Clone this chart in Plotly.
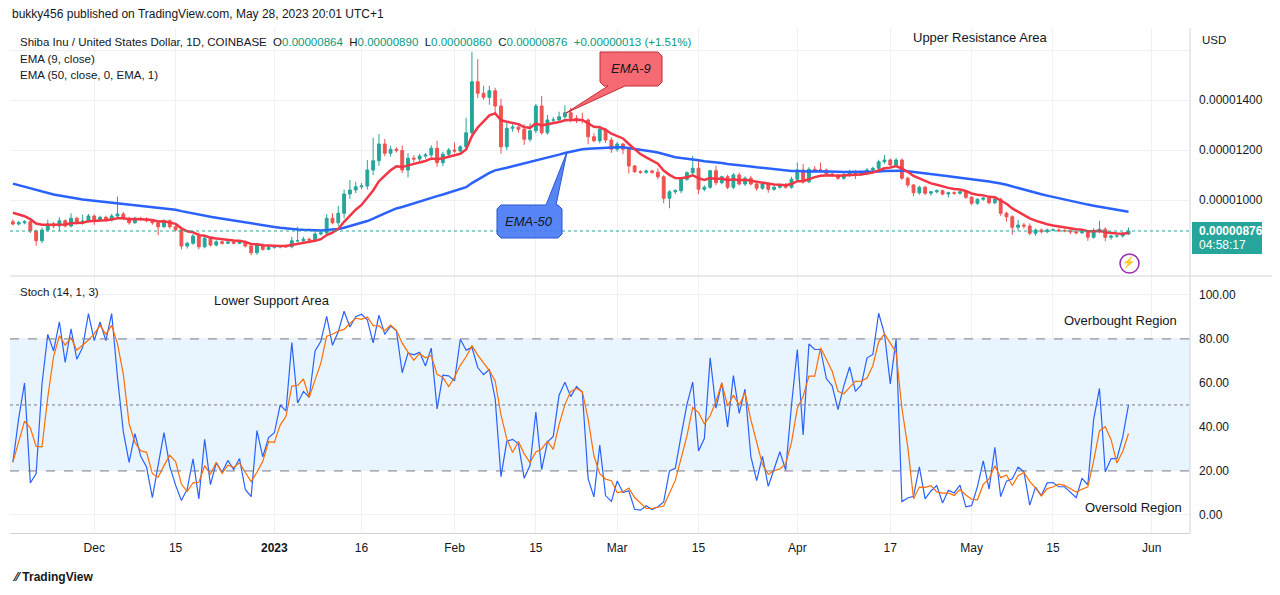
import plotly.graph_objects as go
import pandas as pd

# prices in units of 1e-8 USD
close = [904,909,913,876,837,880,904,896,917,896,927,909,916,936,920,931,920,936,944,927,
         909,927,923,917,909,893,917,893,880,816,827,856,813,847,820,833,827,832,827,833,
         816,789,820,803,811,813,816,813,837,837,843,840,864,869,927,909,947,
         1024,1040,1053,1056,1120,1157,1224,1187,1203,1198,
         1120,1167,1164,1176,1180,1207,1149,1183,1200,1196,
         1213,1269,1473,1427,1411,1437,1376,1213,1287,1291,1283,1243,1277,1376,1269,1320,
         1320,1333,1349,1327,1320,1320,1253,1237,1283,1240,1203,1224,1203,1136,1113,
         1111,1116,1111,1093,1007,1033,1037,1083,1109,1127,1043,1051,1117,1069,1093,1051,
         1100,1064,1087,1064,1047,1064,1043,1051,1060,1051,1083,1120,1073,1123,1120,1120,
         1104,1100,1087,1100,1113,1104,1107,1120,1127,1153,1160,1140,1160,1087,1060,1029,
         1051,1027,1033,1037,
         1024,1029,1027,1033,1011,987,1003,1007,989,1003,947,933,891,900,896,867,880,873,
         880,880,877,877,873,869,873,851,873,883,851,856,856,864,876]
first_open = 913
wick_up = [10,8,6,4,6,10,18,8,14,6,20,6,26,8,6,6,6,8,70,8,
           6,6,6,8,6,6,6,6,6,6,6,8,14,6,4,6,4,4,4,4,
           4,4,4,6,6,6,4,6,16,56,10,6,20,8,16,20,30,
           18,40,20,12,40,92,40,20,14,8,
           20,20,12,8,8,12,30,10,8,30,
           6,60,120,90,30,20,12,30,20,12,12,20,30,8,40,20,
           12,20,30,20,12,30,6,14,14,6,10,8,4,6,4,
           6,6,6,16,6,6,6,4,6,50,30,8,4,20,4,8,
           8,10,8,10,4,6,4,6,6,8,10,30,24,8,12,30,
           6,6,4,8,8,6,4,8,6,8,20,6,8,6,6,4,
           6,6,4,6,
           4,4,6,4,6,4,4,6,6,8,6,6,6,20,8,10,6,6,
           6,6,6,6,6,6,8,4,14,34,8,6,4,8,14]
wick_dn = [6,6,6,8,20,10,6,8,20,6,6,6,8,6,20,6,6,6,8,8,
           8,4,6,6,8,34,6,8,6,14,10,6,10,6,6,6,6,4,4,4,
           6,10,8,6,4,6,6,4,6,6,10,6,6,6,12,6,12,
           20,20,12,10,14,20,20,12,14,8,
           12,30,14,10,10,8,16,14,10,8,
           6,10,20,20,10,30,30,28,14,14,14,22,10,10,8,8,
           10,12,10,16,12,14,30,6,10,12,14,10,20,30,4,
           6,6,6,10,20,40,10,10,6,6,20,8,6,10,6,8,
           8,6,8,6,10,6,14,6,6,6,6,6,8,6,6,8,
           8,8,6,6,8,20,6,8,6,6,8,6,4,6,10,14,
           8,8,10,6,
           6,14,6,6,6,8,6,6,6,6,10,20,30,14,10,8,10,6,
           6,4,6,6,10,6,6,14,6,6,16,10,6,6,4]
ema50_seed = 1072
ema9_seed = 960

dates = pd.date_range("2022-11-17", periods=len(close), freq="D")
opens = [first_open] + close[:-1]
opens[-1] = 864
high = [max(o, c) + u for o, c, u in zip(opens, close, wick_up)]
low = [min(o, c) - d for o, c, d in zip(opens, close, wick_dn)]
high[-1], low[-1] = 890, 860

def ema(vals, n, seed):
    k = 2 / (n + 1); out = []; e = seed
    for v in vals:
        e = v * k + e * (1 - k); out.append(e)
    return out

e9 = ema(close, 9, ema9_seed)
e50 = ema(close, 50, ema50_seed)

K = []
for i in range(len(close)):
    s = max(0, i - 13)
    hh = max(high[s:i + 1]); ll = min(low[s:i + 1])
    K.append(100 * (close[i] - ll) / (hh - ll) if hh > ll else 50)
D = [sum(K[max(0, i - 2):i + 1]) / len(K[max(0, i - 2):i + 1]) for i in range(len(K))]

GREEN, RED = "#26a69a", "#ef5350"
fig = go.Figure()
fig.add_trace(go.Candlestick(x=dates, open=opens, high=high, low=low, close=close,
    increasing=dict(line=dict(color=GREEN, width=1), fillcolor=GREEN),
    decreasing=dict(line=dict(color=RED, width=1), fillcolor=RED),
    whiskerwidth=0, yaxis="y", xaxis="x", showlegend=False))
fig.add_trace(go.Scatter(x=dates, y=e50, mode="lines", line=dict(color="#2962ff", width=2.5), yaxis="y", showlegend=False))
fig.add_trace(go.Scatter(x=dates, y=e9, mode="lines", line=dict(color="#f23645", width=2.5), yaxis="y", showlegend=False))
fig.add_trace(go.Scatter(x=dates, y=K, mode="lines", line=dict(color="#2962ff", width=1.2), yaxis="y2", showlegend=False))
fig.add_trace(go.Scatter(x=dates, y=D, mode="lines", line=dict(color="#ff6d00", width=1.2), yaxis="y2", showlegend=False))

# page has an 8px body margin; target pixel coords are in window space
OFF = 8
L, R, T, B = 10, 1190, 28, 533
def px(x): return (x - L) / (R - L)
def py(y): return (B - y) / (B - T)

shapes = []
shapes.append(dict(type="rect", xref="x domain", yref="y2", x0=0, x1=1, y0=20, y1=80,
                   fillcolor="rgba(33,150,243,0.1)", line_width=0, layer="below"))
for v in (80, 50, 20):
    shapes.append(dict(type="line", xref="x domain", yref="y2", x0=0, x1=1, y0=v, y1=v,
                       line=dict(color="#787b86", width=1, dash="dash" if v != 50 else "dot")))
shapes.append(dict(type="line", xref="x domain", yref="y", x0=0, x1=1, y0=876, y1=876,
                   line=dict(color=GREEN, width=1, dash="dot")))
shapes.append(dict(type="line", xref="paper", yref="paper", x0=0, x1=px(1280), y0=py(276), y1=py(276),
                   line=dict(color="#d1d4dc", width=1)))
shapes.append(dict(type="line", xref="paper", yref="paper", x0=1, x1=1, y0=0, y1=1,
                   line=dict(color="#d1d4dc", width=1)))
def poly(pts, fill, line):
    d = "M " + " L ".join(f"{px(a)},{py(b)}" for a, b in pts) + " Z"
    return dict(type="path", xref="paper", yref="paper", path=d, fillcolor=fill, line=dict(color=line, width=1))
shapes.append(poly([(600, 52), (658, 52), (662, 56), (662, 82), (658, 86), (625, 86), (566, 113),
                    (608, 86), (604, 86), (600, 82)], "rgba(245,90,100,0.9)", "#c42b35"))
shapes.append(poly([(501, 205), (546, 205), (567, 152), (556, 205), (558, 205), (562, 209),
                    (562, 234), (558, 238), (501, 238), (497, 234), (497, 209)], "rgba(70,120,245,0.9)", "#2a55d0"))
shapes.append(dict(type="rect", xref="paper", yref="paper", x0=px(1192), x1=px(1262), y0=py(254), y1=py(222),
                   fillcolor=GREEN, line_width=0))
shapes.append(dict(type="circle", xref="paper", yref="paper", x0=px(1120), x1=px(1139), y0=py(273), y1=py(254),
                   line=dict(color="#9c27b0", width=1.5)))

FONT = "Liberation Sans"
ann = []
def text(x, y, s, size=12, color="#131722", anchor="left", **kw):
    ann.append(dict(xref="paper", yref="paper", x=px(x), y=py(y), text=s, showarrow=False,
                    xanchor=anchor, yanchor="middle", font=dict(size=size, color=color, family=FONT), **kw))
text(10, 14, "bukky456 published on TradingView.com, May 28, 2023 20:01 UTC+1", 12)
g = "#089981"
text(18, 42, "Shiba Inu / United States Dollar, 1D, COINBASE  O<span style='color:%s'>0.00000864</span>  H<span style='color:%s'>0.00000890</span>  L<span style='color:%s'>0.00000860</span>  C<span style='color:%s'>0.00000876</span>  <span style='color:%s'>+0.00000013 (+1.51%%)</span>" % (g, g, g, g, g), 11.5)
text(18, 59, "EMA (9, close)", 11.5)
text(18, 75, "EMA (50, close, 0, EMA, 1)", 11.5)
text(18, 292, "Stoch (14, 1, 3)", 11.5)
text(980, 37, "Upper Resistance Area", 13, anchor="center")
text(272, 300, "Lower Support Area", 13, anchor="center")
text(1120, 320, "Overbought Region", 13, anchor="center")
text(1133, 507, "Oversold Region", 13, anchor="center")
text(631, 69, "<i>EMA-9</i>", 13, anchor="center")
text(529, 221, "<i>EMA-50</i>", 13, anchor="center")
text(1197, 231, "<b>0.00000876</b>", 12, color="white")
text(1197, 245, "04:58:17", 12, color="white")
text(1129, 263, "⚡", 11, color="#9c27b0", anchor="center")
text(1200, 40, "USD", 11.5)
text(10, 577, "<b>⁄⁄ TradingView</b>", 12)

pt = [1000, 1200, 1400, 1600]
st = [0, 20, 40, 60, 80, 100]
ticks = ["2022-12-01", "2022-12-15", "2023-01-01", "2023-01-16", "2023-02-01", "2023-02-15", "2023-03-01",
         "2023-03-15", "2023-04-01", "2023-04-17", "2023-05-01", "2023-05-15", "2023-06-01"]
tick_text = ["Dec", "15", "<b>2023</b>", "16", "Feb", "15", "Mar", "15", "Apr", "17", "May", "15", "Jun"]

W, H = 1280 - OFF, 595 - OFF
fig.update_layout(
    width=W, height=H, paper_bgcolor="white", plot_bgcolor="white",
    margin=dict(l=L - OFF, r=W - (R - OFF), t=T - OFF, b=H - (B - OFF)),
    font=dict(family=FONT, size=12, color="#131722"),
    shapes=shapes, annotations=ann, showlegend=False,
    xaxis=dict(type="date", range=["2022-11-16 12:00", "2023-06-07 14:00"], anchor="y2",
               tickvals=ticks, ticktext=tick_text, showgrid=True, gridcolor="#eef1f6",
               rangeslider=dict(visible=False), ticks="", showline=True, linecolor="#d1d4dc",
               tickfont=dict(size=12), ticklabelstandoff=4),
    yaxis=dict(domain=[py(276), 1], range=[696, 1688], side="right", tickvals=pt,
               ticktext=["0.%08d" % v if v < 1600 else "" for v in pt], showgrid=True, gridcolor="#eef1f6",
               zeroline=False, tickfont=dict(size=12), ticklabelstandoff=8),
    yaxis2=dict(domain=[0, py(276)], range=[-8.2, 108.6], side="right", tickvals=st,
                ticktext=["%.2f" % v for v in st], showgrid=True, gridcolor="#eef1f6",
                zeroline=False, tickfont=dict(size=12), ticklabelstandoff=8),
)
fig.write_html("out.html")
